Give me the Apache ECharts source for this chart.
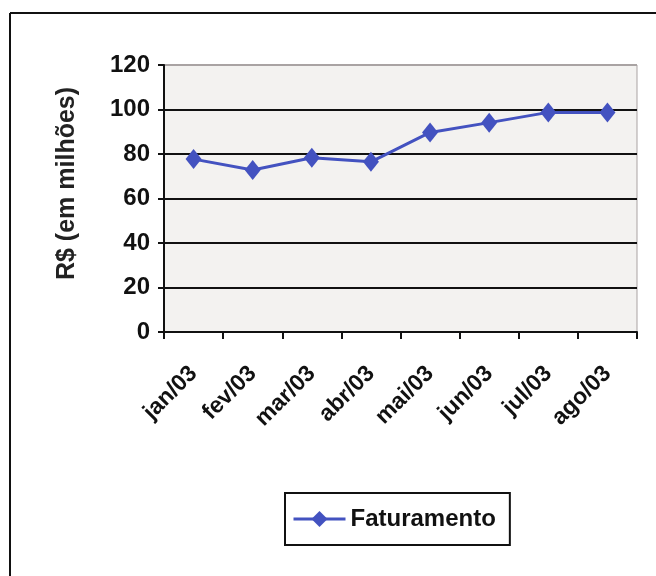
<!DOCTYPE html>
<html><head><meta charset="utf-8">
<script src="https://cdn.jsdelivr.net/npm/echarts@6/dist/echarts.min.js"></script>
<style>html,body{margin:0;padding:0;background:#fff}#c{width:656px;height:576px}</style>
</head><body><div id="c"></div>
<script>
const categories = ['jan/03','fev/03','mar/03','abr/03','mai/03','jun/03','jul/03','ago/03'];
const faturamento = [77.7, 72.8, 78.3, 76.5, 89.7, 94.1, 98.7, 98.7];
const seriesName = 'Faturamento';
const yAxisTitle = 'R$ (em milhões)';

const font = '"Liberation Sans", Arial, sans-serif';
const chart = echarts.init(document.getElementById('c'), null, {renderer:'canvas'});
chart.setOption({
  animation:false,
  backgroundColor:'#fff',
  graphic:[
    {type:'line', shape:{x1:10,y1:13,x2:656,y2:13}, style:{stroke:'#111',lineWidth:2}},
    {type:'line', shape:{x1:10,y1:13,x2:10,y2:576}, style:{stroke:'#111',lineWidth:2}}
  ],
  grid:{left:164, top:65, width:473, height:267, show:true, backgroundColor:'#f3f2f0', borderColor:'#a9a3a3', borderWidth:1},
  legend:{
    left:285, top:493, orient:'horizontal',
    data:[seriesName],
    itemWidth:52, itemHeight:20, itemGap:0,
    lineStyle:{width:3},
    borderColor:'#111', borderWidth:2, backgroundColor:'#fff',
    padding:[13,14,13,7],
    textStyle:{fontFamily:font, fontWeight:'bold', fontSize:24, color:'#111', lineHeight:26}
  },
  xAxis:{
    type:'category', data:categories, boundaryGap:true,
    axisLine:{lineStyle:{color:'#111', width:2}},
    axisTick:{show:true, alignWithLabel:false, length:7, lineStyle:{color:'#111', width:2}},
    axisLabel:{rotate:45, interval:0, margin:38, fontFamily:font, fontWeight:'bold', fontSize:23, color:'#111'},
    splitLine:{show:false}
  },
  yAxis:{
    type:'value', min:0, max:120, interval:20,
    name:yAxisTitle, nameLocation:'middle', nameGap:84, nameRotate:90,
    nameTextStyle:{fontFamily:font, fontWeight:'bold', fontSize:25, color:'#222', padding:[0,0,0,30]},
    axisLine:{show:true, lineStyle:{color:'#111', width:2}},
    axisTick:{show:true, length:6, lineStyle:{color:'#111', width:2}},
    axisLabel:{margin:14, fontFamily:font, fontWeight:'bold', fontSize:24, color:'#111'},
    splitLine:{show:true, lineStyle:{color:['#111','#111','#111','#111','#111','#111','#a9a3a3'], width:2}}
  },
  series:[{
    name:seriesName, type:'line', data:faturamento,
    symbol:'diamond', symbolSize:[16,20],
    lineStyle:{color:'#4352c0', width:3},
    itemStyle:{color:'#4352c0'}
  }]
});
</script></body></html>
